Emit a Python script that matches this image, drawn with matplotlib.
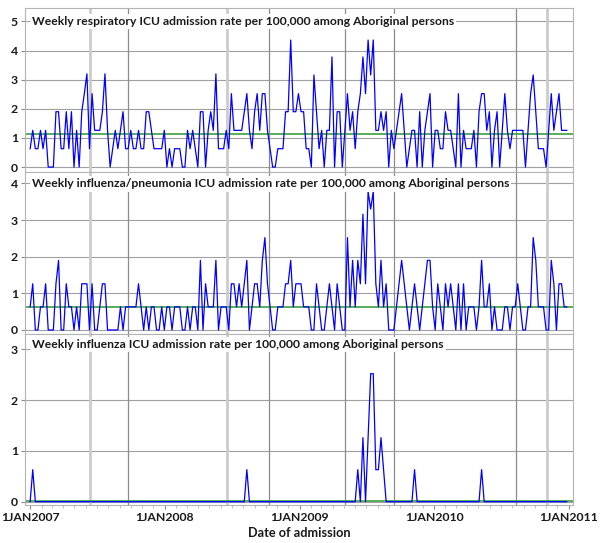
import pandas as pd
import matplotlib
matplotlib.use('Agg')
import matplotlib.pyplot as plt
import matplotlib.dates as mdates
import matplotlib.ticker as mticker

plt.rcParams['font.family'] = ['Lato', 'DejaVu Sans']
plt.rcParams['font.weight'] = 'bold'

# weekly dates, 2007-2010
weeks = pd.date_range('2007-01-01', periods=209, freq='7D')

# respiratory ICU admission rate per 100,000
resp = [0.63, 1.26, 0.63, 0.63, 1.26, 0.63, 1.26, 0, 0, 0,
        1.9, 1.9, 0.63, 0.63, 1.9, 0.63, 1.9, 0, 1.26, 0,
        1.9, 2.52, 3.2, 0.63, 2.52, 1.26, 1.26, 1.26, 1.9, 3.2,
        1.26, 0, 0.63, 1.26, 0.63, 1.26, 1.9, 0.63, 0.63, 1.26,
        0.63, 0.63, 1.26, 0.63, 0.63, 1.9, 1.9, 1.26, 0.63, 0.63,
        0.63, 0.63, 1.26, 0, 0.63, 0, 0.63, 0.63, 0.63, 0,
        0, 1.26, 0.63, 1.26, 0.63, 0, 1.9, 1.9, 0, 1.26,
        1.9, 1.26, 3.2, 0.63, 0.63, 0.63, 1.26, 0.63, 2.52, 1.26,
        1.26, 1.26, 1.26, 1.9, 2.52, 1.26, 0.63, 1.9, 2.52, 1.26,
        2.52, 2.52, 1.26, 0.63, 0, 0, 0.63, 0.63, 0.63, 1.9,
        1.9, 4.36, 1.9, 1.9, 2.52, 1.9, 1.9, 0.63, 0.63, 0,
        3.16, 1.9, 0.63, 1.26, 0, 1.26, 1.26, 3.78, 0, 1.9,
        1.9, 0, 1.26, 2.52, 1.26, 1.9, 0.63, 1.9, 2.52, 3.78,
        2.52, 4.36, 3.16, 4.36, 1.26, 1.26, 1.9, 1.26, 1.9, 0,
        1.26, 0.63, 1.26, 1.9, 2.52, 1.26, 0, 0.63, 1.26, 1.26,
        0, 1.9, 0, 1.26, 1.9, 2.52, 0, 1.26, 1.26, 0.63,
        0.63, 1.9, 1.26, 1.26, 0.63, 0, 2.52, 0, 1.26, 0.63,
        0.63, 0.63, 1.26, 0, 1.9, 2.52, 2.52, 1.26, 1.9, 0,
        1.26, 1.9, 0, 1.26, 2.52, 1.26, 0.63, 1.26, 1.26, 1.26,
        1.26, 1.26, 0, 1.26, 2.52, 3.16, 1.9, 0.63, 0.63, 0.63,
        0, 1.26, 2.52, 1.26, 1.9, 2.52, 1.26, 1.26, 1.26]

# influenza/pneumonia ICU admission rate per 100,000
pneu = [0.63, 1.26, 0, 0, 0.63, 0.63, 1.26, 0, 0, 0,
        1.26, 1.9, 0, 0, 1.26, 0.63, 0.63, 0, 0.63, 0,
        1.26, 1.26, 1.26, 0, 1.26, 0, 0, 0.63, 1.26, 1.26,
        0, 0, 0, 0, 0, 0.63, 0, 0.63, 0.63, 0.63,
        0.63, 0.63, 1.26, 0.63, 0, 0.63, 0, 0.63, 0.63, 0,
        0, 0.63, 0, 0.63, 0.63, 0, 0.63, 0.63, 0.63, 0,
        0, 0.63, 0, 0.63, 0.63, 0, 1.9, 0, 1.26, 0.63,
        0.63, 0.63, 1.9, 0, 0.63, 0.63, 0.63, 0, 1.26, 1.26,
        0.63, 1.26, 0.63, 1.26, 1.9, 0, 0.63, 1.26, 1.26, 0.63,
        1.9, 2.52, 1.26, 0.63, 0, 0, 0.63, 0.63, 0.63, 1.26,
        1.26, 1.9, 0.63, 1.26, 1.26, 1.26, 0.63, 0.63, 0.63, 0,
        0, 1.26, 0.63, 0, 0, 0.63, 1.26, 0.63, 0, 1.26,
        0.63, 0, 0, 2.52, 0.63, 1.9, 0.63, 1.9, 1.26, 3.16,
        1.26, 3.78, 3.3, 3.78, 1.26, 0.63, 1.9, 0.63, 1.26, 0,
        0, 0, 0.63, 1.26, 1.9, 1.26, 0.63, 0, 0.63, 1.26,
        0.63, 0, 0.63, 1.26, 1.9, 1.9, 0.63, 0, 1.26, 0.63,
        0, 1.26, 0.63, 1.26, 0.63, 0, 1.26, 0, 1.26, 0,
        0.63, 0.63, 0.63, 0, 0.63, 1.9, 0.63, 0.63, 1.26, 0,
        0.63, 0, 0, 0, 0.63, 0.63, 0, 0.63, 0.63, 1.26,
        0.63, 0, 0, 0.63, 0.63, 2.52, 1.9, 0.63, 0.63, 0.63,
        0, 0, 1.9, 1.26, 0, 1.26, 1.26, 0.63, 0.63]

# influenza ICU admission rate per 100,000
flu = [0, 0.63, 0, 0, 0, 0, 0, 0, 0, 0,
       0, 0, 0, 0, 0, 0, 0, 0, 0, 0,
       0, 0, 0, 0, 0, 0, 0, 0, 0, 0,
       0, 0, 0, 0, 0, 0, 0, 0, 0, 0,
       0, 0, 0, 0, 0, 0, 0, 0, 0, 0,
       0, 0, 0, 0, 0, 0, 0, 0, 0, 0,
       0, 0, 0, 0, 0, 0, 0, 0, 0, 0,
       0, 0, 0, 0, 0, 0, 0, 0, 0, 0,
       0, 0, 0, 0, 0.63, 0, 0, 0, 0, 0,
       0, 0, 0, 0, 0, 0, 0, 0, 0, 0,
       0, 0, 0, 0, 0, 0, 0, 0, 0, 0,
       0, 0, 0, 0, 0, 0, 0, 0, 0, 0,
       0, 0, 0, 0, 0, 0, 0, 0.63, 0, 1.26,
       0, 1.26, 2.52, 2.52, 0.63, 0.63, 1.26, 0.63, 0, 0,
       0, 0, 0, 0, 0, 0, 0, 0, 0, 0.63,
       0, 0, 0, 0, 0, 0, 0, 0, 0, 0,
       0, 0, 0, 0, 0, 0, 0, 0, 0, 0,
       0, 0, 0, 0, 0, 0.63, 0, 0, 0, 0,
       0, 0, 0, 0, 0, 0, 0, 0, 0, 0,
       0, 0, 0, 0, 0, 0, 0, 0, 0, 0,
       0, 0, 0, 0, 0, 0, 0, 0, 0]

# green reference lines
resp_mean = 1.12
pneu_mean = 0.62
flu_mean = 0.01

titles = ['Weekly respiratory ICU admission rate per 100,000 among Aboriginal persons',
          'Weekly influenza/pneumonia ICU admission rate per 100,000 among Aboriginal persons',
          'Weekly influenza ICU admission rate per 100,000 among Aboriginal persons']

# vertical reference dates (heavy = wide light grey line)
season_dates = ['2007-06-12', '2007-09-24', '2008-06-18', '2008-10-11',
                '2009-05-03', '2009-09-13', '2010-08-12', '2010-11-03']
season_heavy = [True, False, True, False, False, False, False, True]


W, H = 600, 543
fig = plt.figure(figsize=(W / 100, H / 100), dpi=100)

# (top px, bottom px, ylim, yticks, title y in axes)
layout = [(8, 172, (-0.17, 5.46), range(0, 6), 0.917),
          (172, 334, (-0.11, 4.31), range(0, 5), 0.926),
          (334, 505, (-0.065, 3.30), range(0, 4), 0.94)]
series = [(resp, resp_mean), (pneu, pneu_mean), (flu, flu_mean)]

x0 = pd.Timestamp('2006-12-18')
x1 = pd.Timestamp('2011-01-13')
spine_col = '#b4b4b4'

for i, ((top, bot, ylim, yt, ty), (vals, mean)) in enumerate(zip(layout, series)):
    ax = fig.add_axes([25 / W, (H - bot) / H, 548 / W, (bot - top) / H])
    ax.axhline(mean, color='#4aa84a', lw=1.3, zorder=2)
    ax.plot(weeks, vals, color='#0000ff', lw=0.9, zorder=3)

    for d, heavy in zip(season_dates, season_heavy):
        if heavy:
            ax.axvline(pd.Timestamp(d), color='#cccccc', lw=2.0, zorder=1)
        else:
            ax.axvline(pd.Timestamp(d), color='#8c8c8c', lw=0.9, zorder=1)

    ax.set_xlim(x0, x1)
    ax.set_ylim(*ylim)
    ax.set_yticks(list(yt))
    ax.yaxis.grid(True, color='#a0a0a0', lw=0.8, zorder=0)
    ax.set_axisbelow(True)
    for s in ax.spines.values():
        s.set_color(spine_col)
        s.set_linewidth(0.8)
    ax.tick_params(axis='y', length=3, width=0.8, color='#8c8c8c',
                   labelsize=8.8, labelcolor='#1a1a1a', pad=2)

    ax.text(0.0125, ty, titles[i], transform=ax.transAxes, fontsize=8.75,
            fontweight='bold', color='#1a1a1a', va='center', ha='left',
            bbox=dict(fc='white', ec='none', pad=1.5), zorder=5)

    ax.xaxis.set_major_locator(mdates.YearLocator())
    ax.xaxis.set_minor_locator(mdates.MonthLocator())
    if i < 2:
        ax.tick_params(axis='x', which='both', length=0, labelbottom=False)
    else:
        ax.xaxis.set_major_formatter(mticker.FuncFormatter(
            lambda v, p: mdates.num2date(v).strftime('%d%b%Y').lstrip('0').upper()))
        ax.tick_params(axis='x', which='major', length=3, width=0.8,
                       color='#8c8c8c', labelsize=8.8, labelcolor='#1a1a1a', pad=2)
        ax.tick_params(axis='x', which='minor', length=2, width=0.6, color='#b4b4b4')
        ax.set_xlabel('Date of admission', fontsize=9.2, fontweight='bold',
                      color='#1a1a1a', labelpad=3)

fig.savefig('out.png', dpi=100)
